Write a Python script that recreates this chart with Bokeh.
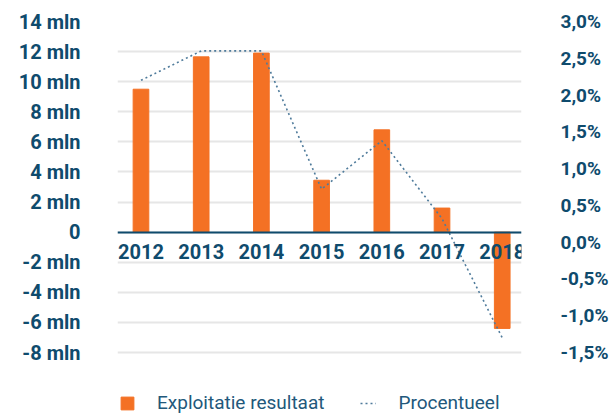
from bokeh.plotting import figure
from bokeh.models import (Range1d, LinearAxis, FixedTicker, CustomJSTickFormatter,
                          Legend, LegendItem, ColumnDataSource)
from bokeh.embed import file_html
from bokeh.resources import INLINE

# ---- data ----
years = ["2012", "2013", "2014", "2015", "2016", "2017", "2018"]
resultaat_mln = [9.5, 11.65, 11.9, 3.45, 6.8, 1.6, -6.4]
procentueel = [2.2, 2.6, 2.6, 0.72, 1.38, 0.32, -1.3]
left_ticks = [-8, -6, -4, -2, 0, 2, 4, 6, 8, 10, 12, 14]
right_ticks = [-1.5, -1.0, -0.5, 0.0, 0.5, 1.0, 1.5, 2.0, 2.5, 3.0]

ORANGE = "#f47124"
NAVY = "#0f4b6d"
LINE = "#4f7b9b"
FONT = "Roboto"

# frame runs to the bottom of the page so the legend can sit beneath the -8 line
LEFT_MIN, LEFT_MAX = -12.12, 14
RIGHT_MIN, RIGHT_MAX = -2.343, 3.0

xs = list(range(len(years)))
src = ColumnDataSource(dict(x=xs, year=years, res=resultaat_mln, pct=procentueel))

p = figure(width=611, height=414, output_backend="svg", toolbar_location=None,
           x_range=Range1d(-0.39, 6.32), y_range=Range1d(LEFT_MIN, LEFT_MAX),
           min_border_left=117, min_border_right=78, min_border_top=21,
           min_border_bottom=0, outline_line_color=None, background_fill_color="white",
           border_fill_color="white")
p.extra_y_ranges = {"pct": Range1d(RIGHT_MIN, RIGHT_MAX)}

bars = p.vbar(x="x", top="res", bottom=0, width=0.26, color=ORANGE, source=src)
line = p.line(x="x", y="pct", y_range_name="pct", line_color=LINE, line_width=1.6,
              line_dash="2 3", source=src)

# x axis at zero
xa = p.xaxis[0]
xa.fixed_location = 0
xa.level = "overlay"
xa.ticker = FixedTicker(ticks=xs)
xa.major_label_overrides = {i: y for i, y in zip(xs, years)}
xa.axis_line_color = NAVY
xa.axis_line_width = 2
xa.major_tick_line_color = None
xa.minor_tick_line_color = None
xa.major_label_text_font = FONT
xa.major_label_text_font_style = "bold"
xa.major_label_text_font_size = "20px"
xa.major_label_text_color = NAVY
xa.major_label_standoff = 6

# left axis
ya = p.yaxis[0]
ya.ticker = FixedTicker(ticks=left_ticks)
ya.formatter = CustomJSTickFormatter(code="return tick == 0 ? '0' : tick + ' mln';")
ya.axis_line_color = None
ya.major_tick_line_color = None
ya.minor_tick_line_color = None
ya.major_label_text_font = FONT
ya.major_label_text_font_style = "bold"
ya.major_label_text_font_size = "20px"
ya.major_label_text_color = NAVY
ya.major_label_standoff = 31

# right axis
ra = LinearAxis(y_range_name="pct", ticker=FixedTicker(ticks=right_ticks),
                formatter=CustomJSTickFormatter(code="return tick.toFixed(1).replace('.', ',') + '%';"))
ra.axis_line_color = None
ra.major_tick_line_color = None
ra.minor_tick_line_color = None
ra.major_label_text_font = FONT
ra.major_label_text_font_style = "bold"
ra.major_label_text_font_size = "19px"
ra.major_label_text_color = NAVY
ra.major_label_standoff = 33
p.add_layout(ra, "right")

p.xgrid.grid_line_color = None
p.ygrid.ticker = FixedTicker(ticks=left_ticks)
p.ygrid.grid_line_color = "#e6e6e6"
p.ygrid.grid_line_width = 2

legend = Legend(items=[LegendItem(label="Exploitatie resultaat", renderers=[bars]),
                       LegendItem(label="Procentueel", renderers=[line])],
                orientation="horizontal", location=(2, 0),
                label_text_font=FONT, label_text_font_size="19px", label_text_color="#22587b",
                glyph_width=16, glyph_height=16, label_standoff=22, spacing=36,
                border_line_color=None, background_fill_alpha=0, padding=0, margin=0)
p.add_layout(legend, "center")

open("out.html", "w").write(file_html(p, INLINE))
